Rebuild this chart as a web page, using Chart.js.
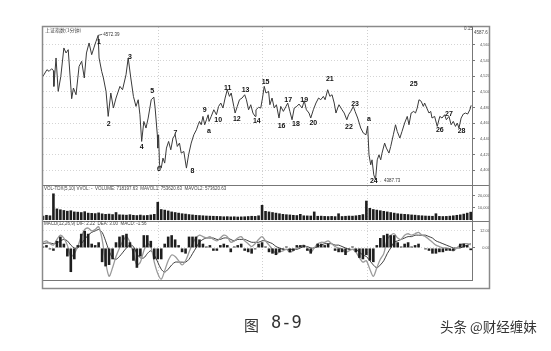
<!DOCTYPE html>
<html>
<head>
<meta charset="utf-8">
<script src="https://cdn.jsdelivr.net/npm/chart.js@4/dist/chart.umd.min.js"></script>
<style>
  html, body { margin: 0; padding: 0; background: #fff; }
  #wrap { position: relative; width: 551px; height: 351px; overflow: hidden; }
  #chart { position: absolute; left: 0; top: 0; filter: blur(0.3px); }
  .cap { position: absolute; font-family: "Noto Sans CJK SC"; color: #333; white-space: nowrap; }
</style>
</head>
<body>
<div id="wrap">
  <canvas id="chart" width="551" height="351"></canvas>
  <div class="cap" style="left:244px; top:314px; font-size:15px;">图</div>
  <div class="cap" style="left:271px; top:312px; font-size:17px; font-family:'DejaVu Sans Mono';">8-9</div>
  <div class="cap" style="left:440px; top:316px; font-size:13.5px;">头条 @财经缠妹</div>
</div>
<script>
// time axis in minutes from the left edge of the chart
const priceT = [0,9,14,20,24,25,30,35,41,48,53,58,66,70,76,83,89,95,100,106,112,117,122,127,129,135,139,145,150,156,162,168,177,183,191,196,202,208,214,219,223,227,232,237,242,249,255,258,263,264,266,268,272,276,280,284,289,294,299,304,309,314,318,324,330,335,341,347,353,357,360,364,368,372,376,380,382,387,393,399,404,409,414,419,424,429,433,439,442,447,452,458,464,468,473,478,483,488,490,496,501,505,509,513,519,522,527,532,537,543,547,553,559,563,568,573,578,584,589,596,601,606,612,616,622,628,634,639,645,649,655,660,665,670,674,678,681,688,693,699,703,708,714,718,724,731,737,743,747,750,754,757,761,765,769,773,777,780,786,790,796,800,806,811,815,821,826,832,838,842,847,853,857,861,865,870,875,878,883,888,892,895,901,907,913,918,924,928,934,939,944,949,953,957,962,967,972,977,982,985];
const priceV = [4520,4528.4,4526.3,4529.7,4527.1,4507.1,4543.4,4500.7,4519.9,4556.2,4549.8,4554.0,4491.3,4505.0,4496.4,4532.7,4539.1,4517.8,4549.8,4562.6,4547.6,4556.2,4564.7,4572.39,4543.4,4526.3,4517.8,4500.7,4468.7,4498.6,4479.4,4492.2,4507.1,4502.8,4522.0,4543.4,4517.8,4494.3,4481.5,4490.0,4470.8,4436.7,4462.3,4453.8,4466.6,4490.0,4493.4,4479.4,4445.2,4428.2,4445.2,4406.8,4402.6,4415.4,4409.0,4428.2,4436.7,4426.0,4441.0,4445.2,4430.3,4434.6,4421.8,4423.9,4402.6,4419.6,4434.6,4445.2,4451.6,4458.0,4462.3,4458.0,4468.7,4458.0,4464.4,4470.8,4462.3,4468.7,4477.2,4470.8,4481.5,4485.8,4479.4,4492.2,4502.8,4494.3,4498.6,4481.5,4473.0,4481.5,4490.0,4492.2,4496.4,4490.0,4477.2,4483.6,4473.0,4468.7,4477.2,4480.3,4479.4,4492.2,4507.1,4498.6,4500.7,4483.6,4492.2,4479.4,4483.6,4466.6,4481.5,4475.1,4481.5,4485.8,4475.1,4464.4,4479.4,4481.5,4484.5,4479.4,4488.7,4477.2,4473.0,4466.6,4477.2,4485.8,4492.2,4490.0,4494.3,4490.0,4502.8,4494.3,4496.4,4485.8,4473.0,4479.4,4483.6,4477.2,4473.0,4464.4,4470.8,4475.1,4481.5,4475.1,4466.6,4453.8,4447.4,4445.2,4456.3,4419.6,4406.8,4413.2,4394.0,4387.73,4413.2,4419.6,4413.2,4421.8,4434.6,4428.2,4421.8,4430.3,4445.2,4458.0,4449.5,4441.0,4449.5,4460.2,4468.7,4458.0,4473.0,4475.1,4473.0,4479.4,4490.0,4488.1,4481.5,4485.8,4479.4,4473.0,4475.1,4466.6,4468.7,4455.9,4468.7,4466.6,4470.8,4464.4,4468.7,4458.0,4462.3,4455.9,4460.2,4453.8,4466.6,4471.7,4473.0,4471.7,4477.2,4482.8];

// wave count marks
const waveNames = ['1','2','3','4','5','6','7','8','9','a','10','11','12','13','14','15','16','17','18','19','20','21','22','23','a','24','25','26','27','28'];
const waveT = [129,151,200,227,251,267,305,344,372,382,403,425,446,466,492,512,549,564,582,601,622,660,704,718,750,761,853,913,934,963];
const waveP = [4564,4459,4544,4430,4501,4401,4448,4399,4477,4450,4464,4505,4465,4502,4463,4513,4456,4489,4459,4490,4460,4517,4455,4484,4465,4386,4510,4451,4472,4450];

// one bar every 8 minutes
const barStep = 8;
const volume = [3500,4200,3800,22000,9500,8800,8200,7600,8000,7000,6800,6500,7200,6000,5800,5600,6200,5400,5000,5200,4800,6500,4600,4500,4300,4700,4200,4000,4400,3900,4100,4500,5000,
  15000,9000,8500,7800,7000,6500,6000,5500,5200,4800,4500,4200,4000,3800,3600,3500,3400,3300,3200,3000,3100,2900,3000,2800,2900,3000,3200,3400,3300,3800,
  12500,7500,7000,6500,6000,5500,5000,4700,4500,4200,4000,5000,3800,3700,3600,7000,3400,3500,3300,3200,3300,3100,5500,3200,3400,3600,3500,3800,4200,4800,
  16000,10000,9000,8500,8000,7500,7000,6500,6000,5500,5200,5000,4800,4500,4300,4000,3800,3600,3500,3400,5500,3300,3200,3300,3500,3800,4200,4600,5200,6000,6800];
const macdDif = [4,5,3,2,6,9,7,2,-6,-4, 1,8,13,14,12,13,15,6,-10,-20, -14,-6,0,5,8,4,-4,-12,-10,-2,
  3,1,-10,-18,-22,-16,-9,-5,-6,-9, -12,-9,-3,3,7,9,8,7,8,6, 5,7,9,8,4,5,7,8,5,3,
  1,3,6,8,5,2,-1,-4,-3,-2, -1,-3,-2,0,1,2,0,-3,0,3, 4,4,5,3,1,0,-1,-3,-2,-1,
  -3,-7,-10,-9,-15,-20,-14,-8,-4,6, 9,10,7,6,9,10,9,10,11,9, 8,6,4,2,1,0,0,-1,-2,0, 2,3,3,2.22];
const macdDea = [3,3.5,3.5,3,3.5,5,6,5,2,0, 0,3,6,9,11,12,13,11,5,-2, -7,-8,-6,-3,0,2,1,-4,-7,-7,
  -4,-2,-5,-10,-15,-17,-15,-12,-10,-10, -10,-10,-8,-4,0,4,6,7,7,7, 6,6,7,7,6,5,6,6,6,5,
  4,4,4,5,5,4,3,1,0,-1, -1,-1,-1,-1,0,1,1,0,0,1, 2,3,3,3,2,2,1,0,-1,-1,
  -1,-3,-5,-6,-9,-12,-14,-12,-9,-4, 0,4,5,6,7,8,8,9,9,9, 9,8,7,5,4,3,2,1,0,0, 0,1,2,3];
const macdHist = [1,2,-1,-2,5,8,3,-6,-17,-8, 2,10,12,10,3,2,4,-10,-13,-12, -8,4,8,9,10,4,-9,-14,-6,9,
  9,5,-8,-8,-8,3,8,9,6,2, -3,-4,8,8,8,6,3,1,2,-2, -2,2,3,2,-3,1,2,3,-2,-3,
  -4,-1,3,4,1,-3,-4,-5,-3,-1, 1,-3,-2,2,2,2,-2,-4,0,3, 3,2,3,0,-2,-3,-3,-5,-1,1,
  -3,-7,-8,-5,-9,-10,2,7,9,10, 9,9,4,1,3,4,1,2,3,0, -1,-2,-4,-4,-3,-3,-2,-2,-2,0, 3,3,2,-1.56];

const priceTicks = [4400,4420,4440,4460,4480,4500,4520,4540,4560];
const volTicks = [10000,20000];
const macdTicks = [0,12];
const timeTicks = [0,23,83,143,203,264,324,384,444,504,564,624,684,745,805,865,925];
const timeLabels = ['14:50','09/24','10:30','13:00','14:00','09/25','10:30','13:00','14:00','09/26','10:30','13:00','14:00','09/27','10:30','13:00','14:00'];
const dayOpens = [264,504,745];

const barX = volume.map((v, i) => i * barStep);
const xy = (xs, ys) => ys.map((y, i) => ({ x: xs[i], y: y }));

const fixWidth = s => { s.width = 18; };
const smallTicks = { font: { size: 4, family: 'Liberation Sans' }, color: '#555', padding: 1, crossAlign: 'far' };

const decor = {
  id: 'decor',
  beforeDatasetsDraw(chart) {
    const { ctx, chartArea: a, scales } = chart;
    ctx.save();
    ctx.strokeStyle = '#cfcfcf';
    ctx.lineWidth = 1;
    ctx.setLineDash([1, 2]);
    dayOpens.forEach(t => {
      const x = Math.round(scales.x.getPixelForValue(t)) + 0.5;
      ctx.beginPath(); ctx.moveTo(x, a.top); ctx.lineTo(x, a.bottom); ctx.stroke();
    });
    ctx.restore();
  },
  afterDraw(chart) {
    const { ctx, chartArea: a, scales } = chart;
    ctx.save();
    // panel separators and frame
    ctx.strokeStyle = '#777';
    ctx.lineWidth = 1;
    [scales.yVol.top, scales.yMacd.top].forEach(y => {
      const yy = Math.round(y) + 0.5;
      ctx.beginPath(); ctx.moveTo(a.left, yy); ctx.lineTo(scales.y.right, yy); ctx.stroke();
    });
    ctx.strokeStyle = '#8a8a8a';
    ctx.lineWidth = 1.5;
    ctx.strokeRect(a.left - 0.5, a.top - 0.5, scales.y.right - a.left, scales.x.bottom - a.top + 1);

    // panel titles
    ctx.fillStyle = '#444';
    ctx.textBaseline = 'middle';
    ctx.textAlign = 'left';
    ctx.font = '5px "Noto Sans CJK SC"';
    ctx.fillText('上证指数(1分钟)', a.left + 2, a.top + 3);
    ctx.font = '4.5px "Liberation Sans"';
    ctx.fillText('VOL-TDX(5,10) VVOL: -  VOLUME: 718197.63  MAVOL1: 753620.63  MAVOL2: 573620.63', a.left + 1, scales.yVol.top + 4);
    ctx.fillText('MACD(12,26,9) DIF: 2.22  DEA: 3.00  MACD: -1.56', a.left + 1, scales.yMacd.top + 3);
    ctx.fillText('0.15', scales.y.left - 8, a.top + 2);
    ctx.fillText('4587.6', scales.y.left + 2, a.top + 6);

    // wave count labels
    ctx.fillStyle = '#111';
    ctx.textAlign = 'center';
    ctx.font = 'bold 7px "Liberation Sans"';
    waveNames.forEach((n, i) => {
      ctx.fillText(n, scales.x.getPixelForValue(waveT[i]), scales.y.getPixelForValue(waveP[i]));
    });

    // extreme price notes
    ctx.font = '4.5px "Liberation Sans"';
    ctx.fillStyle = '#333';
    ctx.textAlign = 'left';
    const hiI = priceV.indexOf(Math.max(...priceV));
    const loI = priceV.indexOf(Math.min(...priceV));
    const hx = scales.x.getPixelForValue(priceT[hiI]), hy = scales.y.getPixelForValue(priceV[hiI]);
    ctx.strokeStyle = '#333'; ctx.lineWidth = 0.7;
    ctx.beginPath(); ctx.moveTo(hx, hy); ctx.lineTo(hx + 4, hy - 1); ctx.stroke();
    ctx.fillText(priceV[hiI].toFixed(2), hx + 5, hy - 1);
    const lx = scales.x.getPixelForValue(priceT[loI]), ly = scales.y.getPixelForValue(priceV[loI]);
    ctx.fillText('\u2190' + priceV[loI].toFixed(2), lx + 4, ly + 1);
    ctx.restore();
  }
};

new Chart(document.getElementById('chart'), {
  type: 'bar',
  data: {
    datasets: [
      { type: 'line', data: xy(priceT, priceV), yAxisID: 'y', borderColor: '#3a3a3a', borderWidth: 1, pointRadius: 0, tension: 0 },
      { type: 'bar', data: xy(barX, volume), yAxisID: 'yVol', backgroundColor: '#1e1e1e', grouped: false, barPercentage: 0.75, categoryPercentage: 1 },
      { type: 'bar', data: xy(barX, macdHist), yAxisID: 'yMacd', backgroundColor: '#1e1e1e', grouped: false, barPercentage: 0.75, categoryPercentage: 1 },
      { type: 'line', data: xy(barX, macdDif), yAxisID: 'yMacd', borderColor: '#9a9a9a', borderWidth: 1.3, pointRadius: 0, tension: 0.3 },
      { type: 'line', data: xy(barX, macdDea), yAxisID: 'yMacd', borderColor: '#2a2a2a', borderWidth: 0.9, pointRadius: 0, tension: 0.3 }
    ]
  },
  options: {
    responsive: false,
    animation: false,
    layout: { padding: { left: 43, right: 61, top: 27, bottom: 63 } },
    plugins: { legend: { display: false }, tooltip: { enabled: false } },
    scales: {
      x: {
        type: 'linear', min: 0, max: 987, position: 'bottom', offset: false,
        grid: { display: false },
        border: { color: '#777' },
        afterBuildTicks: s => { s.ticks = timeTicks.map(v => ({ value: v })); },
        afterFit: s => { s.height = 8; },
        ticks: { autoSkip: false, maxRotation: 0, padding: 1, align: 'start', font: { size: 4, family: 'Liberation Sans' }, color: '#555',
          callback: v => timeLabels[timeTicks.indexOf(v)] }
      },
      y: {
        position: 'right', stack: 'panels', stackWeight: 158, min: 4381, max: 4583,
        afterBuildTicks: s => { s.ticks = priceTicks.map(v => ({ value: v })); },
        afterFit: fixWidth,
        grid: { color: '#d4d4d4', tickColor: '#777', tickLength: 3 },
        border: { color: '#777', dash: [1, 2] },
        ticks: smallTicks
      },
      yVol: {
        position: 'right', stack: 'panels', stackWeight: 36, min: -800, max: 29000,
        afterBuildTicks: s => { s.ticks = volTicks.map(v => ({ value: v })); },
        afterFit: fixWidth,
        grid: { color: '#e6e6e6', tickColor: '#777', tickLength: 3 },
        border: { color: '#777', dash: [1, 2] },
        ticks: smallTicks
      },
      yMacd: {
        position: 'right', stack: 'panels', stackWeight: 59, min: -22.6, max: 19,
        afterBuildTicks: s => { s.ticks = macdTicks.map(v => ({ value: v })); },
        afterFit: fixWidth,
        grid: { color: '#dcdcdc', tickColor: '#777', tickLength: 3 },
        border: { color: '#777', dash: [1, 2] },
        ticks: Object.assign({}, smallTicks, { callback: v => v.toFixed(2) })
      }
    }
  },
  plugins: [decor]
});
</script>
</body>
</html>
